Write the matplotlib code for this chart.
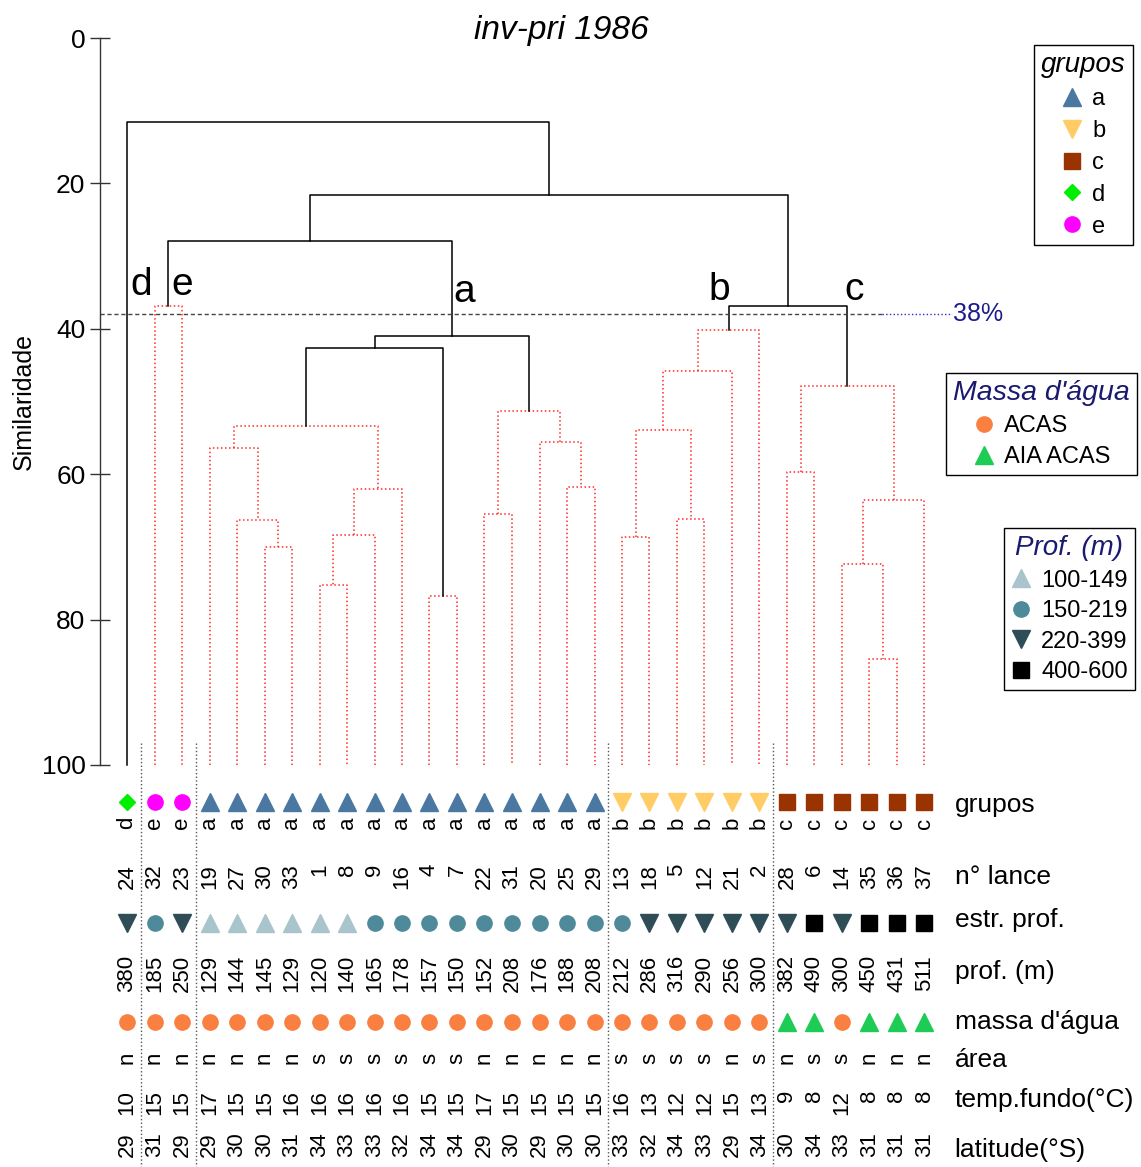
import matplotlib
matplotlib.use("Agg")
import matplotlib.pyplot as plt
from matplotlib.lines import Line2D

plt.rcParams['font.family'] = ['Liberation Sans', 'DejaVu Sans']

# leaves, left to right, as they appear under the dendrogram
lance = [24, 32, 23, 19, 27, 30, 33, 1, 8, 9, 16, 4, 7, 22, 31, 20, 25, 29,
         13, 18, 5, 12, 21, 2, 28, 6, 14, 35, 36, 37]
grupo = ['d', 'e', 'e', 'a', 'a', 'a', 'a', 'a', 'a', 'a', 'a', 'a', 'a', 'a', 'a', 'a', 'a', 'a',
         'b', 'b', 'b', 'b', 'b', 'b', 'c', 'c', 'c', 'c', 'c', 'c']
estr = ['220-399', '150-219', '220-399',
        '100-149', '100-149', '100-149', '100-149', '100-149', '100-149',
        '150-219', '150-219', '150-219', '150-219', '150-219', '150-219', '150-219', '150-219', '150-219',
        '150-219', '220-399', '220-399', '220-399', '220-399', '220-399',
        '220-399', '400-600', '220-399', '400-600', '400-600', '400-600']
prof = [380, 185, 250, 129, 144, 145, 129, 120, 140, 165, 178, 157, 150, 152, 208, 176, 188, 208,
        212, 286, 316, 290, 256, 300, 382, 490, 300, 450, 431, 511]
massa = ['ACAS'] * 24 + ['AIA ACAS', 'AIA ACAS', 'ACAS', 'AIA ACAS', 'AIA ACAS', 'AIA ACAS']
area = ['n', 'n', 'n', 'n', 'n', 'n', 'n', 's', 's', 's', 's', 's', 's', 'n', 'n', 'n', 'n', 'n',
        's', 's', 's', 's', 'n', 's', 'n', 's', 's', 'n', 'n', 'n']
temp = [10, 15, 15, 17, 15, 15, 16, 16, 16, 16, 16, 15, 15, 17, 15, 15, 15, 15,
        16, 13, 12, 12, 15, 13, 9, 8, 12, 8, 8, 8]
lat = [29, 31, 29, 29, 30, 30, 31, 34, 33, 33, 32, 34, 34, 29, 30, 29, 30, 30,
       33, 32, 34, 33, 29, 34, 30, 34, 33, 31, 31, 31]

# merges: (node, node, similarity, significant) ; leaves are 0..29, new nodes from 30 on
merges = [
    (1, 2, 36.9, False),    # 30  e
    (5, 6, 70.0, False),    # 31
    (4, 31, 66.3, False),   # 32
    (3, 32, 56.4, False),   # 33
    (7, 8, 75.2, False),    # 34
    (9, 34, 68.4, False),   # 35
    (35, 10, 62.1, False),  # 36
    (33, 36, 53.4, False),  # 37
    (11, 12, 76.7, False),  # 38
    (37, 38, 42.6, True),   # 39
    (13, 14, 65.5, False),  # 40
    (16, 17, 61.8, False),  # 41
    (15, 41, 55.6, False),  # 42
    (40, 42, 51.3, False),  # 43
    (39, 43, 41.0, True),   # 44  a
    (30, 44, 27.9, True),   # 45
    (18, 19, 68.6, False),  # 46
    (20, 21, 66.2, False),  # 47
    (46, 47, 53.9, False),  # 48
    (48, 22, 45.8, False),  # 49
    (49, 23, 40.1, False),  # 50  b
    (24, 25, 59.7, False),  # 51
    (27, 28, 85.4, False),  # 52
    (26, 52, 72.4, False),  # 53
    (53, 29, 63.6, False),  # 54
    (51, 54, 47.9, False),  # 55  c
    (50, 55, 36.9, True),   # 56
    (45, 56, 21.6, True),   # 57
    (0, 57, 11.6, True),    # 58
]
corte = 38

grupo_cores = {'a': ('^', '#4a78a0'), 'b': ('v', '#ffcc66'), 'c': ('s', '#993300'),
               'd': ('D', '#00ee00'), 'e': ('o', '#ff00ff')}
estr_cores = {'100-149': ('^', '#a9c4cc'), '150-219': ('o', '#4f8a9a'),
              '220-399': ('v', '#2e4d57'), '400-600': ('s', 'black')}
massa_cores = {'ACAS': ('o', '#f98040'), 'AIA ACAS': ('^', '#1ecc55')}
ms_size = {'^': 13, 'v': 13, 's': 11, 'D': 8.5, 'o': 11}

W, H = 1141, 1167
fig = plt.figure(figsize=(W / 100, H / 100), dpi=100)

x0, x1 = -27 / 27.5, (W - 127) / 27.5
ax = fig.add_axes([100 / W, 1 - 765 / H, 1041 / W, 727 / H])
ax.set_xlim(x0, x1)
ax.set_ylim(100, 0)
for s in ['top', 'right', 'bottom']:
    ax.spines[s].set_visible(False)
ax.spines['left'].set_linewidth(1)
ax.spines['left'].set_color('#333333')
ax.set_xticks([])
ax.set_yticks([0, 20, 40, 60, 80, 100])
ax.tick_params(axis='y', direction='inout', length=14, width=1, color='#333333')
for lab in ax.get_yticklabels():
    lab.set_fontsize(19)
ax.set_ylabel('Similaridade', fontsize=18)
ax.yaxis.set_label_coords(-0.062, 0.5)

# dendrogram
pos = {i: (float(i), 100.0) for i in range(len(lance))}
for k, (a, b, h, sig) in enumerate(merges):
    xa, ya = pos[a]
    xb, yb = pos[b]
    if sig:
        ax.plot([xa, xa, xb, xb], [ya, h, h, yb], color='black', lw=1.1, clip_on=False)
    else:
        ax.plot([xa, xa, xb, xb], [ya, h, h, yb], color='#ff2a2a', lw=1.1, ls=':', clip_on=False)
    pos[len(lance) + k] = ((xa + xb) / 2, h)

# cut level
ax.plot([x0, 27.45], [corte, corte], color='#444444', lw=1, ls=(0, (3, 2)))
ax.plot([27.45, 30.0], [corte, corte], color='#2a2acc', lw=1, ls=':')
ax.text(30.05, corte, f'{corte}%', color='#1c1c8a', fontsize=18, va='center', ha='left')

grupo_nomes = ['d', 'e', 'a', 'b', 'c']
grupo_lx = [0.5, 2.0, 12.25, 21.55, 26.45]
grupo_ly = [34.0, 34.0, 35.0, 34.6, 34.6]
for g, gx, gy in zip(grupo_nomes, grupo_lx, grupo_ly):
    ax.text(gx, gy, g, fontsize=28, ha='center', va='center')

fig.text(561 / W, 1 - 31 / H, 'inv-pri 1986', fontsize=24, style='italic', ha='center', va='center')

# table under the dendrogram (y in layout units, top to bottom)
tb = fig.add_axes([100 / W, 0, 1041 / W, (H - 740) / H])
tb.set_xlim(x0, x1)
tb.set_ylim(H, 740)
tb.axis('off')

fronteiras = [i + 0.5 for i in range(len(grupo) - 1) if grupo[i] != grupo[i + 1]]
for fx in fronteiras:
    tb.plot([fx, fx], [743, H], color='#555555', lw=1, ls=':')

row_grupo, row_letra, row_lance, row_estr = 802, 823, 864, 923
row_prof, row_massa, row_area, row_temp, row_lat = 955, 1022, 1058, 1090, 1132
txt = dict(rotation=90, fontsize=16, ha='center')
for i in range(len(lance)):
    m, c = grupo_cores[grupo[i]]
    tb.plot(i, row_grupo, marker=m, color=c, ms=ms_size[m], ls='none')
    tb.text(i, row_letra, grupo[i], va='center', **txt)
    tb.text(i, row_lance, str(lance[i]), va='top', **txt)
    m, c = estr_cores[estr[i]]
    tb.plot(i, row_estr, marker=m, color=c, ms=ms_size[m], ls='none')
    tb.text(i, row_prof, str(prof[i]), va='top', **txt)
    m, c = massa_cores[massa[i]]
    tb.plot(i, row_massa, marker=m, color=c, ms=ms_size[m], ls='none')
    tb.text(i, row_area, area[i], va='center', **txt)
    tb.text(i, row_temp, str(temp[i]), va='top', **txt)
    tb.text(i, row_lat, str(lat[i]), va='top', **txt)

rotulos = ['grupos', 'n° lance', 'estr. prof.', 'prof. (m)', "massa d'água", 'área',
           'temp.fundo(°C)', 'latitude(°S)']
rotulos_y = [805, 877, 920, 972, 1022, 1060, 1100, 1150]
for r, ry in zip(rotulos, rotulos_y):
    tb.text(30.1, ry, r, fontsize=19, ha='left', va='center')


def legenda(itens, cores, titulo, cor_titulo, canto, fs, esp, tfs):
    hs = [Line2D([], [], marker=cores[k][0], color=cores[k][1], ls='none',
                 ms=ms_size[cores[k][0]]) for k in itens]
    lg = fig.legend(hs, itens, loc='upper right', bbox_to_anchor=(canto[0] / W, 1 - canto[1] / H),
                    fontsize=fs, title=titulo, frameon=True, fancybox=False, framealpha=1,
                    edgecolor='black', handlelength=0.9, handletextpad=0.4, borderpad=0.3,
                    labelspacing=esp, borderaxespad=0,
                    title_fontproperties={'size': tfs, 'style': 'italic'})
    lg.get_title().set_color(cor_titulo)
    lg.get_frame().set_linewidth(1)
    return lg


legenda(['a', 'b', 'c', 'd', 'e'], grupo_cores, 'grupos', 'black', (1133, 45), 17, 0.42, 20)
legenda(['ACAS', 'AIA ACAS'], massa_cores, "Massa d'água", '#1a1a70', (1137, 373), 17, 0.38, 20.5)
legenda(['100-149', '150-219', '220-399', '400-600'], estr_cores, 'Prof. (m)', '#1a1a70',
        (1135, 528), 17, 0.36, 20)

fig.savefig('out.png', dpi=100)
